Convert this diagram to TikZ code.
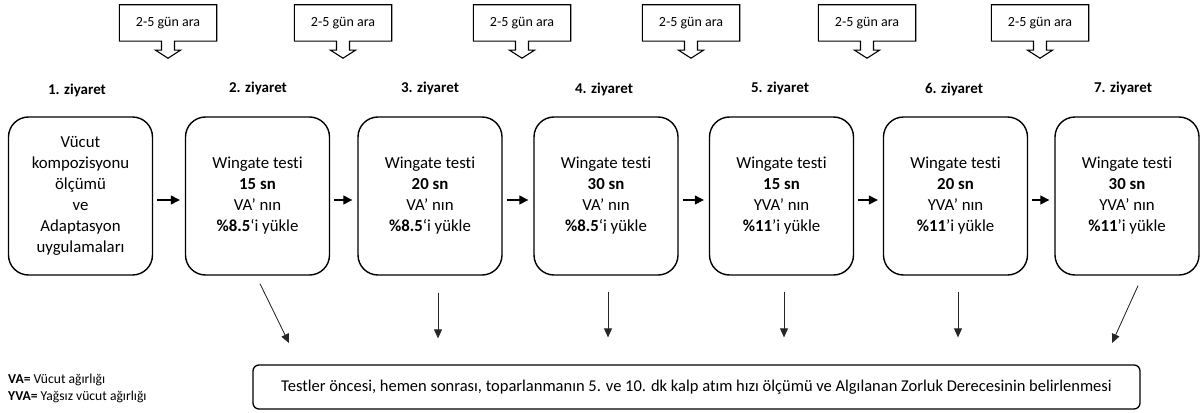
\documentclass[tikz,border=0pt]{standalone}
\usepackage{fontspec}
\setmainfont{Carlito}[Ligatures={NoCommon}]
\usetikzlibrary{arrows.meta}
\begin{document}
\begin{tikzpicture}[x=1pt,y=-1pt,
 visit/.style={draw, line width=1.4pt, rounded corners=20pt, minimum width=144pt, minimum height=158pt, align=center, font=\fontsize{16.8}{21}\selectfont, inner sep=0pt},
 vlabel/.style={font=\bfseries\fontsize{15}{18}\selectfont, inner sep=0pt},
 gap/.style={minimum width=97pt, minimum height=36pt, inner sep=0pt, font=\fontsize{14}{17}\selectfont},
 gapline/.style={line width=1.1pt, line join=miter},
 harrow/.style={-{Triangle[length=9pt,width=9pt]}, line width=1.3pt, shorten <=4pt, shorten >=5pt},
 darrow/.style={-{Triangle[length=9pt,width=8pt]}, line width=0.8pt, draw=black!85, fill=black},
 ]
\useasboundingbox (0,0) rectangle (1201,412);

% interval boxes with down arrows
\foreach \i/\x in {1/168,2/343,3/522,4/691,5/867,6/1040}{
  \node[gap] (g\i) at (\x,23) {2-5 gün ara};
  \draw[gapline] (g\i.north west) -- (g\i.north east) -- (g\i.south east)
    -- ([xshift=6.5pt]g\i.south) -- ++(0,9) -- ++(6,0) -- ++(-12.5,8)
    -- ++(-12.5,-8) -- ++(6,0) -- ++(0,-9) -- (g\i.south west) -- cycle;
}

% visit labels
\node[vlabel] (l1) at (77,90) {1. ziyaret};
\node[vlabel] (l2) at (258,88) {2. ziyaret};
\node[vlabel] (l3) at (430,88) {3. ziyaret};
\node[vlabel] (l4) at (604,89) {4. ziyaret};
\node[vlabel] (l5) at (780,88) {5. ziyaret};
\node[vlabel] (l6) at (954,89) {6. ziyaret};
\node[vlabel] (l7) at (1123,88) {7. ziyaret};

% visit boxes
\node[visit] (b1) at (80.5,196) {Vücut\\kompozisyonu\\ölçümü\\ve\\Adaptasyon\\uygulamaları};
\node[visit] (b2) at (257.5,196) {Wingate testi\\\textbf{15 sn}\\VA’ nın\\\textbf{\%8.5}‘i yükle};
\node[visit] (b3) at (430,196) {Wingate testi\\\textbf{20 sn}\\VA’ nın\\\textbf{\%8.5}‘i yükle};
\node[visit] (b4) at (606,196) {Wingate testi\\\textbf{30 sn}\\VA’ nın\\\textbf{\%8.5}‘i yükle};
\node[visit] (b5) at (781.5,196) {Wingate testi\\\textbf{15 sn}\\YVA’ nın\\\textbf{\%11}’i yükle};
\node[visit] (b6) at (955.5,196) {Wingate testi\\\textbf{20 sn}\\YVA’ nın\\\textbf{\%11}’i yükle};
\node[visit] (b7) at (1127,196) {Wingate testi\\\textbf{30 sn}\\YVA’ nın\\\textbf{\%11}’i yükle};

% horizontal arrows
\foreach \a/\b in {b1/b2,b2/b3,b3/b4,b4/b5,b5/b6,b6/b7}{
  \draw[harrow] ([yshift=-4pt]\a.east) -- ([yshift=-4pt]\b.west);
}

% bottom box
\node[draw, line width=1.3pt, rounded corners=6pt, minimum width=887pt, minimum height=44pt, inner sep=0pt, font=\fontsize{16.5}{19}\selectfont] (bot) at (696.5,387) {Testler öncesi, hemen sonrası, toparlanmanın 5. ve 10. dk kalp atım hızı ölçümü ve Algılanan Zorluk Derecesinin belirlenmesi};

% arrows to bottom box
\coordinate (t2) at (289,343);
\coordinate (t7) at (1112,343);
\draw[darrow] ([xshift=2.5pt,yshift=-8pt]b2.south) -- (t2);
\draw[darrow] ([xshift=11pt,yshift=-10pt]b7.south) -- (t7);
\draw[darrow, shorten <=17pt, shorten >=26pt] ([xshift=8pt]b3.south) -- ([xshift=8pt]b3.south |- bot.north);
\draw[darrow, shorten <=16pt, shorten >=27pt] ([xshift=2pt]b4.south) -- ([xshift=2pt]b4.south |- bot.north);
\draw[darrow, shorten <=16pt, shorten >=27pt] ([xshift=2.5pt]b5.south) -- ([xshift=2.5pt]b5.south |- bot.north);
\draw[darrow, shorten <=16pt, shorten >=27pt] ([xshift=2.5pt]b6.south) -- ([xshift=2.5pt]b6.south |- bot.north);

% legend
\node[anchor=west, inner sep=0pt, font=\fontsize{13.6}{16}\selectfont] (va) at (8,380) {\textbf{VA=} Vücut ağırlığı};
\node[anchor=west, inner sep=0pt, font=\fontsize{13.6}{16}\selectfont] (yva) at (8,397) {\textbf{YVA=} Yağsız vücut ağırlığı};
\end{tikzpicture}
\end{document}
